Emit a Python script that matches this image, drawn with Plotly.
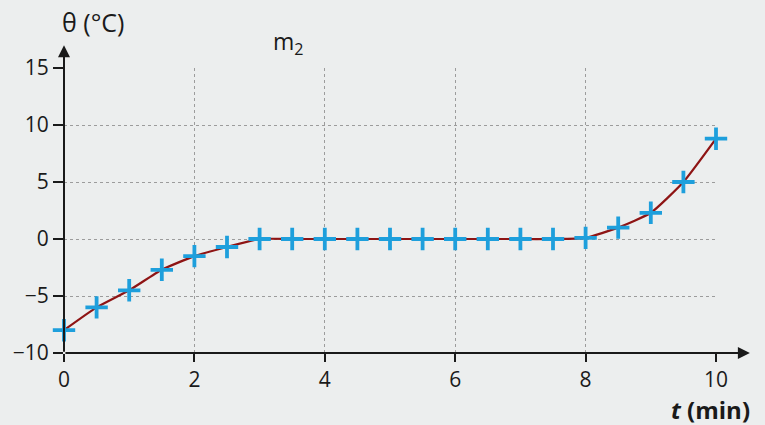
import plotly.graph_objects as go

t_min = [0, 0.5, 1, 1.5, 2, 2.5, 3, 3.5, 4, 4.5, 5, 5.5, 6, 6.5, 7, 7.5, 8, 8.5, 9, 9.5, 10]
theta = [-8.0, -6.0, -4.5, -2.7, -1.5, -0.7, 0, 0, 0, 0, 0, 0, 0, 0, 0, 0, 0.1, 1.0, 2.3, 5.0, 8.8]
x_ticks = [0, 2, 4, 6, 8, 10]
y_ticks = [-10, -5, 0, 5, 10, 15]
y_tick_text = ["−10", "−5", "0", "5", "10", "15"]

BG = "#eceeee"
FONT = "Open Sans, Noto Sans, sans-serif"
TXT = "#1a1a1a"

fig = go.Figure()
fig.add_trace(go.Scatter(
    x=t_min, y=theta, mode="lines",
    line=dict(color="#8e1414", width=2.2, shape="spline", smoothing=0.5),
    hoverinfo="skip", showlegend=False, cliponaxis=False,
))
fig.add_trace(go.Scatter(
    x=t_min, y=theta, mode="markers",
    marker=dict(symbol="cross-thin", size=16, line=dict(color="#1e9fdc", width=3.8)),
    showlegend=False, cliponaxis=False,
))

fig.update_layout(
    width=765, height=425,
    margin=dict(l=64, r=49, t=68, b=72),
    paper_bgcolor=BG, plot_bgcolor=BG,
    font=dict(family=FONT, size=20, color=TXT),
    xaxis=dict(range=[0, 10], tickvals=x_ticks, showgrid=True, gridcolor="#9c9c9c", gridwidth=1,
               griddash="dot", zeroline=False, showline=False, ticks="outside", ticklen=8,
               tickcolor=TXT, tickwidth=1.5, tickfont=dict(size=21, family=FONT, color=TXT)),
    yaxis=dict(range=[-10, 15], tickvals=y_ticks, ticktext=y_tick_text, showgrid=True,
               gridcolor="#9c9c9c", gridwidth=1, griddash="dot", zeroline=False, showline=False,
               ticks="outside", ticklen=10, tickcolor=TXT, tickwidth=1.5,
               tickfont=dict(size=21, family=FONT, color=TXT)),
)

# x-axis arrow
fig.add_annotation(x=1.052, y=0, xref="paper", yref="paper", ax=-686, ay=0,
                   showarrow=True, arrowhead=2, arrowsize=1.2, arrowwidth=2, arrowcolor=TXT, text="")
# y-axis arrow
fig.add_annotation(x=0, y=1.08, xref="paper", yref="paper", ax=0, ay=308,
                   showarrow=True, arrowhead=2, arrowsize=1.2, arrowwidth=2, arrowcolor=TXT, text="")

fig.add_annotation(x=0, y=1.0, xref="paper", yref="paper", xanchor="left", yanchor="bottom",
                   xshift=-4, yshift=27, text="θ (°C)", showarrow=False,
                   font=dict(size=25, family=FONT, color=TXT))
fig.add_annotation(x=0.345, y=1.0, xref="paper", yref="paper", xanchor="center", yanchor="bottom",
                   yshift=6, text="m<sub>2</sub>", showarrow=False,
                   font=dict(size=23, family=FONT, color=TXT))
fig.add_annotation(x=1.0, y=0, xref="paper", yref="paper", xanchor="right", yanchor="top",
                   xshift=36, yshift=-38, text="<b><i>t</i> (min)</b>", showarrow=False,
                   font=dict(size=24, family=FONT, color=TXT))

fig.write_html("out.html", config={"displayModeBar": False},
               post_script="document.body.style.margin='0';")
